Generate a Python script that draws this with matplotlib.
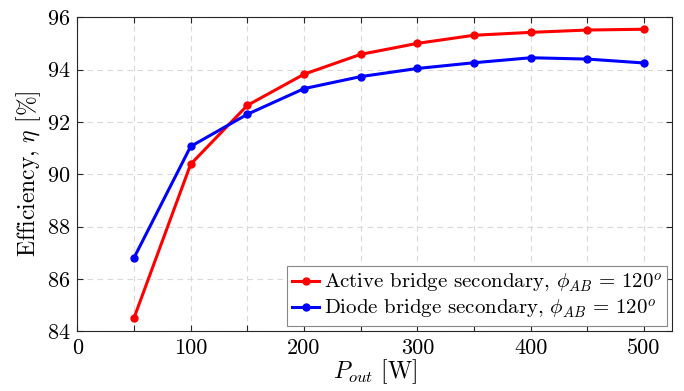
import matplotlib
matplotlib.use("Agg")
import matplotlib.pyplot as plt

plt.rcParams['font.family'] = 'serif'
plt.rcParams['font.serif'] = ['cmr10']
plt.rcParams['mathtext.fontset'] = 'cm'
plt.rcParams['axes.formatter.use_mathtext'] = True

p_out = [50, 100, 150, 200, 250, 300, 350, 400, 450, 500]
eff_active = [84.5, 90.38, 92.63, 93.82, 94.58, 95.0, 95.31, 95.42, 95.51, 95.54]
eff_diode = [86.8, 91.06, 92.29, 93.27, 93.73, 94.04, 94.26, 94.45, 94.4, 94.25]
xticks = [0, 50, 100, 150, 200, 250, 300, 350, 400, 450, 500]
xticklabels = ['0', '', '100', '', '200', '', '300', '', '400', '', '500']
yticks = [84, 86, 88, 90, 92, 94, 96]

fig = plt.figure(figsize=(6.84, 3.91), dpi=100)
ax = fig.add_axes([0.113, 0.153, 0.870, 0.803])

ax.plot(p_out, eff_active, color='red', lw=2.2, marker='o', ms=5,
        label=r'Active bridge secondary, $\phi_{AB}\,=\,120^o$')
ax.plot(p_out, eff_diode, color='blue', lw=2.2, marker='o', ms=5,
        label=r'Diode bridge secondary, $\phi_{AB}\,=\,120^o$')

ax.set_xlim(0, 525)
ax.set_ylim(84, 96)
ax.set_xticks(xticks)
ax.set_xticklabels(xticklabels)
ax.set_yticks(yticks)
ax.tick_params(direction='in', top=True, right=True, labelsize=16, length=4,
               color='#262626', pad=5)
ax.grid(True, ls=(0, (5, 4)), color='#d9d9d9', lw=0.8)
for s in ax.spines.values():
    s.set_color('#262626')

ax.set_xlabel(r'$P_{out}$ [W]', fontsize=17, labelpad=0)
ax.set_ylabel(r'Efficiency, $\eta$ [%]', fontsize=17, labelpad=3)

leg = ax.legend(loc='lower right', fontsize=15, handlelength=1.3, handletextpad=0.2,
                borderpad=0.25, labelspacing=0.1, borderaxespad=0.25, fancybox=False, framealpha=1)
leg.get_frame().set_edgecolor('#888888')
leg.get_frame().set_linewidth(0.8)

fig.savefig('out.png', dpi=100)
